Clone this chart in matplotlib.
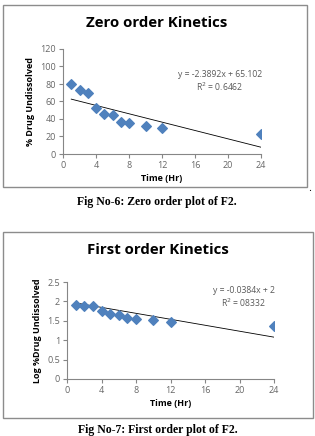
import matplotlib
matplotlib.use("Agg")
import matplotlib.pyplot as plt
from matplotlib.patches import Rectangle

# data
time_hr = [1, 2, 3, 4, 5, 6, 7, 8, 10, 12, 24]
pct_undissolved = [80, 73, 70, 53, 46, 44, 37, 35, 32, 30, 23]
log_undissolved = [1.92, 1.88, 1.87, 1.74, 1.67, 1.66, 1.58, 1.55, 1.52, 1.48, 1.37]
zero_slope, zero_icpt = -2.3892, 65.102
first_slope, first_icpt = -0.0384, 2.0
x_ticks = [0, 4, 8, 12, 16, 20, 24]
zero_yticks = [0, 20, 40, 60, 80, 100, 120]
first_yticks = [0, 0.5, 1, 1.5, 2, 2.5]
first_ytick_labels = ["0", "0.5", "1", "1.5", "2", "2.5"]

W, H = 315, 436
BLUE = "#4F81BD"
GREY = "#595959"


def px_axes(fig, left, top, right, bottom):
    return fig.add_axes([left / W, 1 - bottom / H, (right - left) / W, (bottom - top) / H])


def frame(fig, left, top, right, bottom):
    fig.patches.append(Rectangle((left / W, 1 - bottom / H), (right - left) / W,
                                 (bottom - top) / H, transform=fig.transFigure,
                                 fill=False, edgecolor="#8c8c8c", linewidth=1.0))


def style_axes(ax, ylim, yticks, ylabels, ylabel):
    ax.set_xlim(0, 24)
    ax.set_ylim(*ylim)
    ax.set_xticks(x_ticks)
    ax.set_yticks(yticks)
    ax.set_yticklabels(ylabels)
    for s in ("top", "right"):
        ax.spines[s].set_visible(False)
    for s in ("left", "bottom"):
        ax.spines[s].set_color("#868686")
        ax.spines[s].set_linewidth(0.8)
    ax.tick_params(labelsize=6.5, colors="#868686", labelcolor="#666666", length=3, width=0.8, pad=2)
    ax.set_xlabel("Time (Hr)", fontsize=6.5, fontweight="bold", labelpad=3)
    ax.set_ylabel(ylabel, fontsize=6.5, fontweight="bold", labelpad=4)


fig = plt.figure(figsize=(W / 100, H / 100), dpi=100)
plt.rcParams["font.family"] = ["Open Sans", "DejaVu Sans"]

# ---- zero order ----
frame(fig, 3, 5, 307, 187)
fig.text(157 / W, 1 - 23 / H, "Zero order Kinetics", ha="center", va="center",
         fontsize=10.8, fontweight="bold")
ax1 = px_axes(fig, 63, 49, 261, 154)
ax1.scatter(time_hr, pct_undissolved, marker="D", s=24, color=BLUE, zorder=3)
xs = [time_hr[0], time_hr[-1]]
ax1.plot(xs, [zero_slope * x + zero_icpt for x in xs], color="black", lw=0.6)
style_axes(ax1, (0, 120), zero_yticks, [str(v) for v in zero_yticks], "% Drug Undissolved")
ax1.text(19, 83, "y = -2.3892x + 65.102\nR$^2$ = 0.6462", ha="center", va="center",
         fontsize=6.2, color=GREY, linespacing=1.1)
fig.text(157 / W, 1 - 202 / H, "Fig No-6: Zero order plot of F2.", ha="center", va="center",
         fontsize=8.5, fontweight="bold", family="Liberation Serif")
fig.text(310 / W, 1 - 188 / H, ".", ha="center", va="center", fontsize=8)

# ---- first order ----
frame(fig, 3, 232, 313, 418)
fig.text(158 / W, 1 - 250 / H, "First order Kinetics", ha="center", va="center",
         fontsize=10.8, fontweight="bold")
ax2 = px_axes(fig, 67, 282, 274, 379)
ax2.scatter(time_hr, log_undissolved, marker="D", s=24, color=BLUE, zorder=3)
ax2.plot(xs, [first_slope * x + first_icpt for x in xs], color="black", lw=0.6)
style_axes(ax2, (0, 2.5), first_yticks, first_ytick_labels, "Log %Drug Undissolved")
ax2.text(20.5, 2.1, "y = -0.0384x + 2\nR$^2$ = 08332", ha="center", va="center",
         fontsize=6.2, color=GREY, linespacing=1.1)
fig.text(158 / W, 1 - 430 / H, "Fig No-7: First order plot of F2.", ha="center", va="center",
         fontsize=8.5, fontweight="bold", family="Liberation Serif")

fig.savefig("out.png", dpi=100)
